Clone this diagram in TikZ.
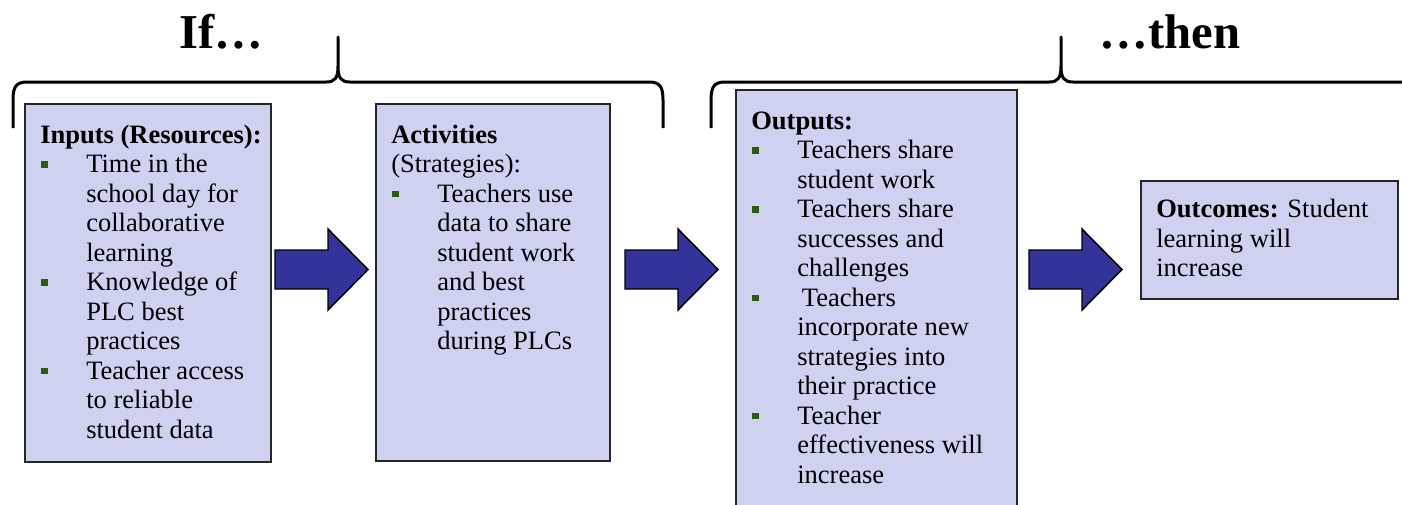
\documentclass[tikz,border=0pt]{standalone}
\usepackage{fontspec}
\setmainfont{Liberation Serif}
\usepackage{xcolor}
\definecolor{boxfill}{RGB}{207,209,240}
\definecolor{arrowfill}{RGB}{51,51,153}
\definecolor{bulgreen}{RGB}{38,94,12}
\newcommand{\bl}{\makebox[34.5pt][l]{\hspace{0.75pt}\textcolor{bulgreen}{\rule[3.8pt]{4.8pt}{4.8pt}}}}
\newcommand{\ind}{\hspace*{34.5pt}}
\newcommand{\fstrut}{\rule{0pt}{15pt}}
\begin{document}
\begin{tikzpicture}[x=0.75pt,y=-0.75pt,
  box/.style={draw=black!85, line width=1.2pt, fill=boxfill, inner sep=0pt, anchor=north west},
  txt/.style={anchor=north west, inner sep=0pt, align=left, font=\fontsize{19.9}{22.125}\selectfont},
  brace/.style={draw=black, line width=2.25pt, line join=round, line cap=butt},
  blockarrow/.style={fill=arrowfill, draw=black, line width=1.1pt, line join=miter},
  heading/.style={font=\fontsize{36.5}{40}\selectfont\bfseries, anchor=base, inner sep=0pt}]
\useasboundingbox (0,0) rectangle (1402,504);

% headings
\node[heading] (if) at (221,48) {If…};
\node[heading] (then) at (1170,48) {…then};

% braces
\draw[brace] (13,128) -- (13,100) .. controls (13,87) and (16,82) .. (27,82)
  -- (326,82) .. controls (335,82) and (338,78) .. (338,66) -- (338,37)
  -- (338,66) .. controls (338,78) and (341,82) .. (350,82)
  -- (649,82) .. controls (660,82) and (663,87) .. (663,100) -- (663,128);
\draw[brace] (711,128) -- (711,100) .. controls (711,87) and (714,82) .. (725,82)
  -- (1049,82) .. controls (1058,82) and (1061,78) .. (1061,66) -- (1061,37)
  -- (1061,66) .. controls (1061,78) and (1064,82) .. (1073,82) -- (1410,82);

% boxes
\node[box, minimum width=184.5pt, minimum height=268.5pt] (inputs) at (24,103) {};
\node[box, minimum width=175.5pt, minimum height=267.75pt] (activities) at (375,103) {};
\node[box, minimum width=210.75pt, minimum height=323.25pt] (outputs) at (735,89) {};
\node[box, minimum width=192.75pt, minimum height=88.5pt] (outcomes) at (1140,180) {};

% arrows
\draw[blockarrow] (275,250) -- (328,250) -- (328,229) -- (368,269.5) -- (328,310) -- (328,289) -- (275,289) -- cycle;
\draw[blockarrow, shift={(350,0)}] (275,250) -- (328,250) -- (328,229) -- (368,269.5) -- (328,310) -- (328,289) -- (275,289) -- cycle;
\draw[blockarrow, shift={(754,0)}] (275,250) -- (328,250) -- (328,229) -- (368,269.5) -- (328,310) -- (328,289) -- (275,289) -- cycle;

% texts
\node[txt] (inputstext) at (40,123) {\fstrut\textbf{Inputs (Resources):}\\
\bl Time in the\\
\ind school day for\\
\ind collaborative\\
\ind learning\\
\bl Knowledge of\\
\ind PLC best\\
\ind practices\\
\bl Teacher access\\
\ind to reliable\\
\ind student data};

\node[txt] (activitiestext) at (391,123) {\fstrut\textbf{Activities}\\
(Strategies):\\
\bl Teachers use\\
\ind data to share\\
\ind student work\\
\ind and best\\
\ind practices\\
\ind during PLCs};

\node[txt] (outputstext) at (751,109) {\fstrut\textbf{Outputs:}\\
\bl Teachers share\\
\ind student work\\
\bl Teachers share\\
\ind successes and\\
\ind challenges\\
\bl\hspace{3.5pt}Teachers\\
\ind incorporate new\\
\ind strategies into\\
\ind their practice\\
\bl Teacher\\
\ind effectiveness will\\
\ind increase};

\node[txt] (outcomestext) at (1156,197.5) {\fstrut\textbf{Outcomes:} Student\\
learning will\\
increase};
\end{tikzpicture}
\end{document}
